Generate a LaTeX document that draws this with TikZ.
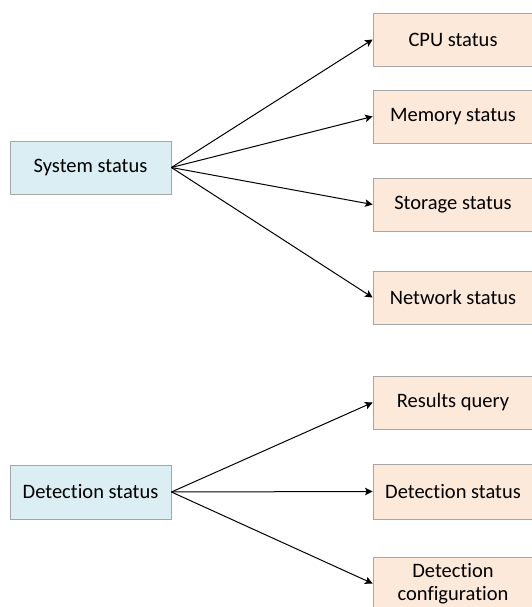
\documentclass[tikz,border=0pt]{standalone}
\usepackage{fontspec}
\setmainfont{Carlito}[Ligatures=NoCommon]
\usetikzlibrary{arrows.meta}
\definecolor{srcfill}{HTML}{DBEEF4}
\definecolor{dstfill}{HTML}{FDE9D9}
\definecolor{boxline}{HTML}{A6A6A6}
\begin{document}
\begin{tikzpicture}[x=1pt,y=-1pt,
  box/.style={draw=boxline,line width=0.8pt,minimum width=161pt,minimum height=53pt,
    inner sep=0pt,align=center,font=\fontsize{20.5}{23.5}\selectfont},
  srcbox/.style={box,fill=srcfill},
  dstbox/.style={box,fill=dstfill,minimum width=160pt},
  link/.style={line width=1pt,-{Stealth[length=7.5pt,width=7.5pt,inset=1.5pt]}}]
\useasboundingbox (0,0) rectangle (532,607);
\begin{scope}
\clip (0,0) rectangle (532,607);
% source boxes
\node[srcbox] (sys) at (90.5,167.5) {System status};
\node[srcbox,minimum height=54pt] (det) at (90.5,492) {Detection status};
% target boxes
\node[dstbox] (cpu) at (453,39.5) {CPU status};
\node[dstbox] (mem) at (453,116.5) {Memory status};
\node[dstbox] (sto) at (453,204.5) {Storage status};
\node[dstbox] (net) at (453,297.5) {Network status};
\node[dstbox] (res) at (453,402.5) {Results query};
\node[dstbox,minimum height=55pt] (dst) at (453,491.5) {Detection status};
\node[dstbox] (cfg) at (453,583.5) {Detection\\configuration};
% connectors
\foreach \t in {cpu,mem,sto,net}
  \draw[link] (sys.east) -- (\t.west);
\foreach \t in {res,dst,cfg}
  \draw[link] (det.east) -- (\t.west);
\end{scope}
\end{tikzpicture}
\end{document}
